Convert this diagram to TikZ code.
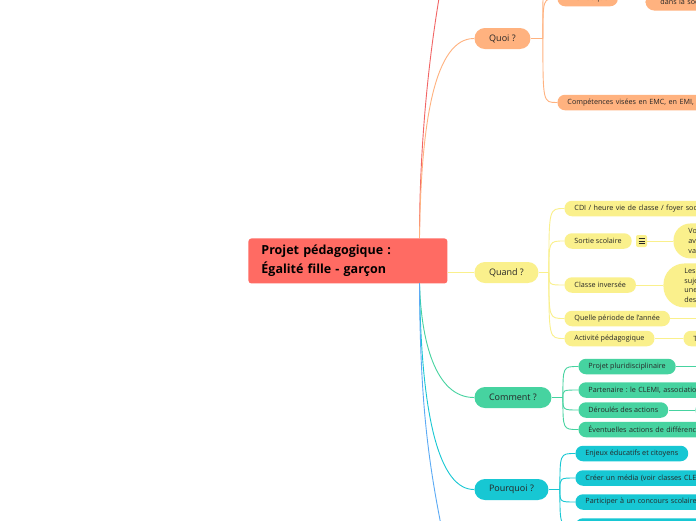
\documentclass[tikz,border=0pt]{standalone}
\usepackage{fontspec}
\setmainfont{Open Sans}
\usetikzlibrary{positioning}
\frenchspacing
\definecolor{rootred}{HTML}{FF6B63}
\definecolor{quoiorange}{HTML}{FFB27F}
\definecolor{quandyellow}{HTML}{FAF08C}
\definecolor{commentgreen}{HTML}{46D3A0}
\definecolor{pourquoicyan}{HTML}{17C7D3}
\definecolor{quired}{HTML}{F26565}
\definecolor{oublue}{HTML}{5BAAF5}
\definecolor{ink}{HTML}{262626}

\begin{document}
\begin{tikzpicture}[x=1pt,y=-1pt,line width=0.9pt,
    topic/.style={rectangle,rounded corners=3pt,fill=rootred,text=black,
      font=\bfseries\fontsize{12.5}{19}\selectfont,align=left,anchor=north west,
      minimum width=199pt,minimum height=45pt,text width=173pt,inner xsep=13pt},
    branch/.style={rectangle,rounded corners=10.5pt,minimum height=21pt,anchor=west,
      inner sep=0pt,text=ink,font=\fontsize{9}{11}\selectfont},
    leaf/.style={rectangle,rounded corners=7.5pt,minimum height=15.5pt,anchor=west,
      inner xsep=10pt,inner ysep=0pt,text=ink,font=\fontsize{7.2}{9}\selectfont},
    leafcut/.style={leaf,text width=200pt,align=left},
    bubble/.style={rectangle,anchor=north west,align=left,inner ysep=0pt,text=ink,
      font=\fontsize{7.2}{9.7}\selectfont},
    iconbox/.style={rectangle,rounded corners=2pt,fill=quandyellow,
      minimum width=11pt,minimum height=12pt,inner sep=0pt}]
\fill[white] (0,0) rectangle (696,520);
\useasboundingbox (0,0) rectangle (696,520);
\clip (0,0) rectangle (696,520);

% main topic and branches
\node[topic] (root) at (248,238) {Projet pédagogique :\\Égalité fille - garçon};
\node[branch,fill=quoiorange,minimum width=56pt] (quoi) at (474,38.5) {Quoi ?};
\node[branch,fill=quandyellow,minimum width=64pt] (quand) at (474,272.5) {Quand ?};
\node[branch,fill=commentgreen,minimum width=77pt] (comment) at (474,397.5) {Comment ?};
\node[branch,fill=pourquoicyan,minimum width=74pt] (pourquoi) at (474,489.5) {Pourquoi ?};

\coordinate (rootup) at (419.5,238);
\coordinate (rootdown) at (419.5,283);
\coordinate (quiend) at (446,-40);
\coordinate (ouend) at (442,530);

\draw[quired] (rootup) .. controls (419.5,150) and (428,50) .. (quiend);
\draw[quoiorange] (rootup) .. controls (421,120) and (435,38.5) .. (quoi.west);
\draw[quandyellow] (root.east |- quand.west) -- (quand.west);
\draw[commentgreen] (rootdown) .. controls (421,340) and (435,397.5) .. (comment.west);
\draw[pourquoicyan] (rootdown) .. controls (421,420) and (440,489.5) .. (pourquoi.west);
\draw[oublue] (rootdown) .. controls (420,400) and (428,460) .. (ouend);

% Quoi ?
\node[leaf,fill=quoiorange] (thematique) at (557,-1.5) {Thématique};
\node[bubble,fill=quoiorange,anchor=south west,rounded corners=9pt,minimum height=17pt,
  text width=60pt,inner xsep=15pt] (societe) at (645,11) {dans la soc};
\node[leafcut,fill=quoiorange] (competences) at (557,102.5) {Compétences visées en EMC, en EMI, e};
\coordinate (quoi-j) at ([xshift=12pt]quoi.east);
\coordinate (quoi-up) at (557,-60);
\draw[quoiorange] (quoi.east) -- (quoi-j);
\foreach \child in {thematique.west,quoi-up,competences.west}
  \draw[quoiorange] (quoi-j) .. controls (quoi-j |- \child) .. (\child);

% Quand ?
\node[leafcut,fill=quandyellow] (cdi) at (564,208.5) {CDI / heure vie de classe / foyer soci};
\node[leaf,fill=quandyellow] (sortie) at (564,241) {Sortie scolaire};
\node[leaf,fill=quandyellow] (inversee) at (564,285) {Classe inversée};
\node[leaf,fill=quandyellow] (periode) at (564,318.5) {Quelle période de l'année};
\node[leaf,fill=quandyellow] (activite) at (564,338.5) {Activité pédagogique};
\node[iconbox] (sortie-note) at (641.5,241) {};
\foreach \dy in {-2.6,0,2.6}
  \draw[ink,line width=0.8pt] ([xshift=-3pt,yshift=\dy pt]sortie-note.center) -- ++(6,0);
\node[bubble,fill=quandyellow,rounded corners=17pt,minimum height=35pt,
  text width=40pt,inner xsep=15pt] (voyage) at (673,223) {Vo\\av\\va};
\node[bubble,fill=quandyellow,rounded corners=21pt,minimum height=44pt,
  text width=40pt,inner xsep=21pt] (sujets) at (663,263) {Les\\suje\\une\\des};
\node[leafcut,fill=quandyellow] (activite-detail) at (683,338.5) {T};
\coordinate (periode-end) at (700,318.5);
\coordinate (quand-j) at ([xshift=10pt]quand.east);
\draw[quandyellow] (quand.east) -- (quand-j);
\foreach \child in {cdi,sortie,inversee,periode,activite}
  \draw[quandyellow] (quand-j) .. controls (quand-j |- \child.west) .. (\child.west);
\draw[quandyellow] (sortie-note.east) -- (voyage.west |- sortie-note.east);
\draw[quandyellow] (inversee.east) -- (sujets.west |- inversee.east);
\draw[quandyellow] (periode.east) -- (periode-end);
\draw[quandyellow] (activite.east) -- (activite-detail.west);

% Comment ?
\node[leaf,fill=commentgreen] (pluri) at (578,366.5) {Projet pluridisciplinaire};
\node[leafcut,fill=commentgreen] (partenaire) at (578,390) {Partenaire : le CLEMI, associatio};
\node[leaf,fill=commentgreen] (deroules) at (578,410) {Déroulés des actions};
\node[leafcut,fill=commentgreen] (eventuelles) at (578,429.5) {Éventuelles actions de différenc};
\node[leafcut,fill=commentgreen] (deroules-detail) at (695,410) {};
\coordinate (pluri-end) at (700,366.5);
\coordinate (comment-j) at ([xshift=11pt]comment.east);
\draw[commentgreen] (comment.east) -- (comment-j);
\foreach \child in {pluri,partenaire,deroules,eventuelles}
  \draw[commentgreen] (comment-j) .. controls (comment-j |- \child.west) .. (\child.west);
\draw[commentgreen] (pluri.east) -- (pluri-end);
\draw[commentgreen] (deroules.east) -- (deroules-detail.west);

% Pourquoi ?
\node[leaf,fill=pourquoicyan] (enjeux) at (575,453.5) {Enjeux éducatifs et citoyens};
\node[leafcut,fill=pourquoicyan] (media) at (575,478) {Créer un média (voir classes CLE};
\node[leafcut,fill=pourquoicyan] (concours) at (575,502) {Participer à un concours scolaire};
\node[leafcut,fill=pourquoicyan] (suite) at (575,526) {};
\coordinate (pourquoi-j) at ([xshift=11pt]pourquoi.east);
\draw[pourquoicyan] (pourquoi.east) -- (pourquoi-j);
\foreach \child in {enjeux,media,concours,suite}
  \draw[pourquoicyan] (pourquoi-j) .. controls (pourquoi-j |- \child.west) .. (\child.west);
\end{tikzpicture}
\end{document}
